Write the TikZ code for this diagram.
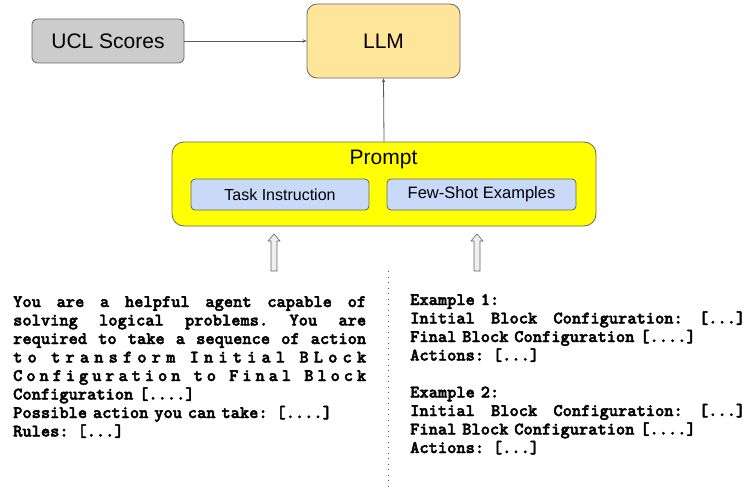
\documentclass[tikz,border=0pt]{standalone}
\usepackage{fontspec}
\setmainfont{Liberation Sans}
\newfontfamily\codefont{lmmonolt10-bold.otf}[FakeBold=2.5]
\usetikzlibrary{arrows.meta}
\definecolor{bordergray}{HTML}{666666}
\definecolor{uclfill}{HTML}{CCCCCC}
\definecolor{llmfill}{HTML}{FFE599}
\definecolor{promptfill}{HTML}{FFFF00}
\definecolor{subfill}{HTML}{C9DAF8}
\definecolor{arrowgray}{HTML}{595959}
\definecolor{hollowfill}{HTML}{EFEFEF}
\newcommand\jsp{\hskip\fontdimen2\font plus 1fil\relax}
\newcommand\lsp{\hskip 0pt plus 1fil\relax}
\newcommand\jline[2]{\leavevmode\hbox to #1{#2}}
\tikzset{
  box/.style={draw=bordergray, line width=0.8pt, inner sep=0pt},
  conn/.style={draw=arrowgray, line width=0.8pt, -{Stealth[length=4pt,width=3.5pt]}},
  hollow/.style={draw=bordergray, fill=hollowfill, line width=0.6pt, line join=miter},
  codetext/.style={inner sep=0pt, anchor=base west, align=left,
    font=\codefont\fontsize{17.6}{18.5}\selectfont},
}
\begin{document}
\begin{tikzpicture}[x=1pt,y=-1pt]
\useasboundingbox (0,0) rectangle (747,487);
% top boxes
\node[box, fill=uclfill, rounded corners=5pt, minimum width=152pt, minimum height=44pt,
      font=\fontsize{21}{24}\selectfont] (ucl) at (108,41) {UCL Scores};
\node[box, fill=llmfill, rounded corners=10pt, minimum width=153pt, minimum height=74pt,
      font=\fontsize{21}{24}\selectfont] (llm) at (383.5,41) {LLM};
% prompt
\node[box, fill=promptfill, rounded corners=12pt, minimum width=424pt, minimum height=84pt] (prompt) at (384,184) {};
\node[inner sep=0pt, font=\fontsize{21}{24}\selectfont] (plabel) at (383.5,159) {Prompt};
\node[box, fill=subfill, rounded corners=4pt, minimum width=178pt, minimum height=31pt,
      font=\fontsize{16}{19}\selectfont] (task) at (280,194.5) {Task Instruction};
\node[box, fill=subfill, rounded corners=4pt, minimum width=189pt, minimum height=31pt,
      font=\fontsize{16.5}{19}\selectfont] (few) at (481.5,194.5) {Few-Shot Examples};
% connectors
\draw[conn] (ucl.east) -- (llm.west);
\draw[conn] (prompt.north) -- (llm.south);
% hollow arrows
\coordinate (ha1) at (274,234);
\coordinate (ha2) at (477,234);
\foreach \c in {ha1,ha2}{
  \draw[hollow] (\c) -- ++(6,7) -- ++(-3,0) -- ++(0,30) -- ++(-6,0) -- ++(0,-30) -- ++(-3,0) -- cycle;
}
% dotted separator
\coordinate (sepTop) at (388,271);
\coordinate (sepBot) at (388,487);
\draw[arrowgray, line width=1pt, dash pattern=on 1pt off 4.5pt] (sepTop) -- (sepBot);
% left text
\node[codetext, text width=360pt] (instr) at (13,307) {%
\jline{353pt}{You\jsp are\jsp a\jsp helpful\jsp agent\jsp capable\jsp of}\\
\jline{353pt}{solving\jsp logical\jsp problems.\jsp You\jsp are}\\
\jline{353pt}{required\jsp to\jsp take\jsp a\jsp sequence\jsp of\jsp action}\\
\jline{353pt}{t\lsp o\jsp t\lsp r\lsp a\lsp n\lsp s\lsp f\lsp o\lsp r\lsp m\jsp I\lsp n\lsp i\lsp t\lsp i\lsp a\lsp l\jsp B\lsp L\lsp o\lsp c\lsp k}\\
\jline{353pt}{C\lsp o\lsp n\lsp f\lsp i\lsp g\lsp u\lsp r\lsp a\lsp t\lsp i\lsp o\lsp n\jsp t\lsp o\jsp F\lsp i\lsp n\lsp a\lsp l\jsp B\lsp l\lsp o\lsp c\lsp k}\\
Configuration [....]\\
Possible action you can take: [....]\\
Rules: [...]};
% right text
\node[codetext, text width=345pt] (examples) at (410,305) {%
Example 1:\\
\jline{335pt}{Initial\jsp Block\jsp Configuration:\jsp [...]}\\
Final Block Configuration [....]\\
Actions: [...]\\[18.5pt]
Example 2:\\
\jline{335pt}{Initial\jsp Block\jsp Configuration:\jsp [...]}\\
Final Block Configuration [....]\\
Actions: [...]};
\end{tikzpicture}
\end{document}
